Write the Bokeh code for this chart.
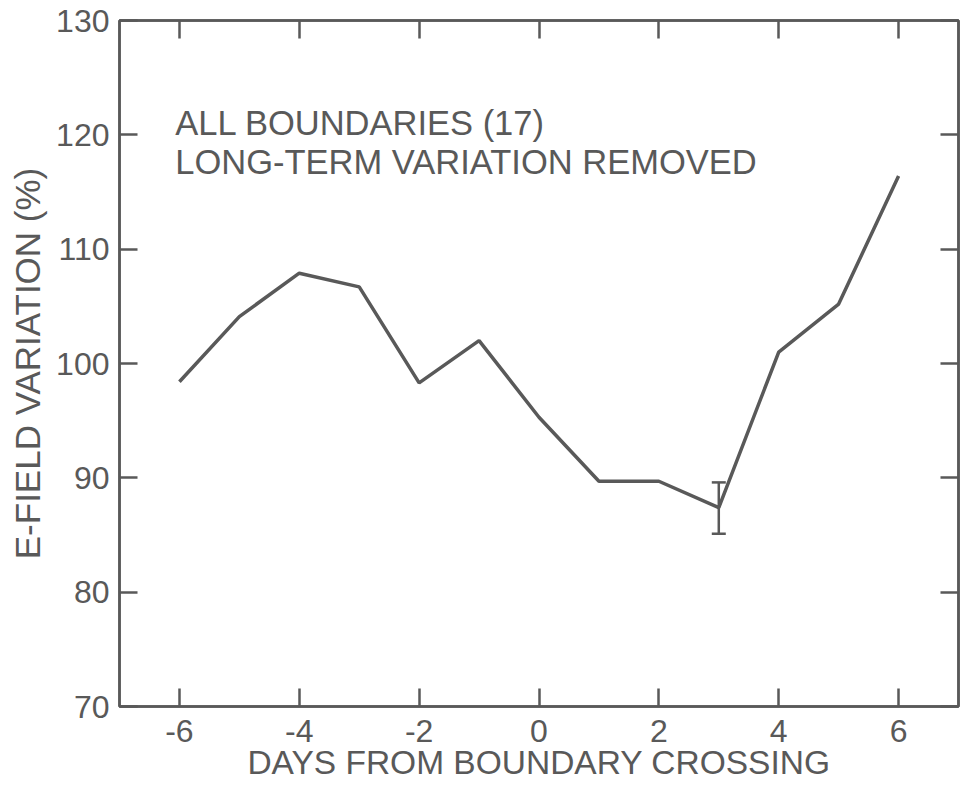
from bokeh.plotting import figure
from bokeh.models import (FixedTicker, LinearAxis, Label, ColumnDataSource,
                          Whisker, TeeHead, Range1d, CustomLabelingPolicy)
from bokeh.embed import file_html
from bokeh.resources import INLINE

days = [-6, -5, -4, -3, -2, -1, 0, 1, 2, 3, 4, 5, 6]
efield = [98.4, 104.1, 107.9, 106.7, 98.3, 102.0, 95.3, 89.7, 89.7, 87.4, 101.0, 105.2, 116.4]
err_day = [3]
err_upper = [89.6]
err_lower = [85.1]
x_ticks = [-6, -4, -2, 0, 2, 4, 6]
x_tick_labels = ["-6", "-4", "-2", "0", "2", "4", "6"]
y_ticks = [70, 80, 90, 100, 110, 120, 130]
annotation = ["ALL BOUNDARIES (17)", "LONG-TERM VARIATION REMOVED"]

INK = "#595959"
FONT = "Liberation Sans"

p = figure(width=967, height=785, output_backend="svg", toolbar_location=None,
           x_range=Range1d(-7, 7), y_range=Range1d(70, 130),
           min_border_left=119, min_border_right=9, min_border_top=20,
           min_border_bottom=79, x_axis_location=None, y_axis_location=None)
p.grid.visible = False
p.outline_line_color = INK
p.outline_line_width = 2.5
p.background_fill_color = "white"
p.border_fill_color = "white"

no_labels = CustomLabelingPolicy(code="""
    for (const i of [...indices]) { indices.unset(i) }
    return indices
""")


def style(ax, labels=True):
    ax.axis_line_color = INK
    ax.axis_line_width = 2.5
    ax.major_tick_line_color = INK
    ax.major_tick_line_width = 2.5
    ax.major_tick_in = 18
    ax.major_tick_out = 0
    ax.minor_tick_line_color = None
    ax.major_label_text_color = INK
    ax.major_label_text_font = FONT
    ax.axis_label_text_color = INK
    ax.axis_label_text_font = FONT
    ax.axis_label_text_font_style = "normal"
    if not labels:
        ax.major_label_policy = no_labels
        ax.major_label_text_font_size = "0px"
        ax.major_label_standoff = 0


bottom = LinearAxis(ticker=FixedTicker(ticks=x_ticks),
                    axis_label="DAYS FROM BOUNDARY CROSSING")
style(bottom)
bottom.major_label_overrides = dict(zip(x_ticks, x_tick_labels))
bottom.major_label_text_font_size = "32px"
bottom.axis_label_text_font_size = "33.5px"
bottom.major_label_standoff = 13
bottom.axis_label_standoff = -1
p.add_layout(bottom, "below")

left = LinearAxis(ticker=FixedTicker(ticks=y_ticks),
                  axis_label="E-FIELD VARIATION (%)")
style(left)
left.major_label_text_font_size = "32px"
left.axis_label_text_font_size = "35px"
left.major_label_standoff = 10
left.axis_label_standoff = 6
p.add_layout(left, "left")

top = LinearAxis(ticker=FixedTicker(ticks=x_ticks))
style(top, labels=False)
p.add_layout(top, "above")

right = LinearAxis(ticker=FixedTicker(ticks=y_ticks))
style(right, labels=False)
p.add_layout(right, "right")

p.line(days, efield, line_color=INK, line_width=3.5)

src = ColumnDataSource(dict(x=err_day, up=err_upper, lo=err_lower))
w = Whisker(source=src, base="x", upper="up", lower="lo",
            line_color=INK, line_width=2.5,
            upper_head=TeeHead(size=14, line_color=INK, line_width=2.5),
            lower_head=TeeHead(size=14, line_color=INK, line_width=2.5))
p.add_layout(w)

for txt, yy in zip(annotation, [121.0, 117.6]):
    p.add_layout(Label(x=-6.07, y=yy, text=txt, text_font=FONT,
                       text_font_size="34.5px", text_color=INK,
                       text_baseline="alphabetic"))

open("out.html", "w").write(file_html(p, INLINE))
